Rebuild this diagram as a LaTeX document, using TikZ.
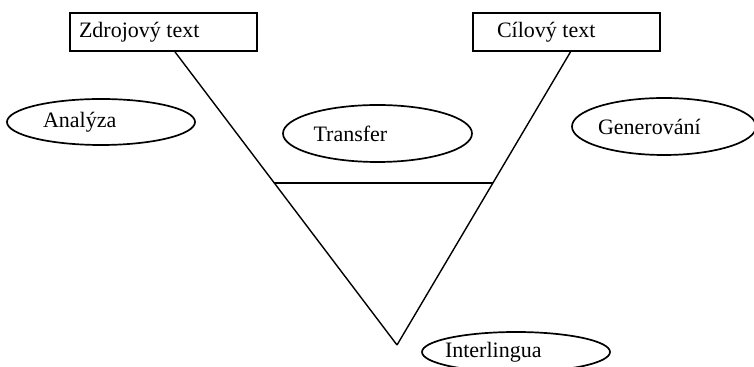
\documentclass[tikz,border=0pt]{standalone}
\usepackage{fontspec}
\setmainfont{Liberation Serif}
\usepackage{tikz}
\usetikzlibrary{shapes.geometric, calc}

\begin{document}
\begin{tikzpicture}[
    x=0.5pt, y=-0.5pt,
    font=\fontsize{11}{13}\selectfont,
    textbox/.style={
        rectangle,
        draw=black,
        line width=0.9pt,
        align=flush left,
        minimum height=19pt,
        inner ysep=2pt
    },
    phase/.style={
        ellipse,
        draw=black,
        line width=0.85pt,
        align=flush left,
        inner xsep=-5pt,
        inner ysep=0pt,
        text width=#1
    },
    leg/.style={line width=0.7pt},
    bar/.style={line width=1pt}
]
\useasboundingbox (0,0) rectangle (754,367);

\node[textbox, text width=84.5pt, inner xsep=4.5pt] (zdroj) at (163.5,32) {Zdrojový text};
\node[textbox, text width=69.5pt, inner xsep=12pt] (cil) at (566.5,32) {Cílový text};

\node[phase=58pt, minimum width=94pt, minimum height=23pt] (analyza) at (101,122) {Analýza};
\node[phase=64pt, minimum width=94.5pt, minimum height=28.5pt] (transfer) at (377.5,133.5) {Transfer};
\node[phase=66pt, minimum width=92pt, minimum height=28.5pt] (generovani) at (664,126.5) {Generování};
\node[phase=71pt, minimum width=94pt, minimum height=20pt] (interlingua) at (516,352) {Interlingua};

\coordinate (apex) at (397,345);
\coordinate (srcfoot) at ([xshift=5.75pt]zdroj.south);
\coordinate (tgtfoot) at ([xshift=2pt]cil.south);

\draw[leg] (srcfoot) -- (apex);
\draw[leg] (tgtfoot) -- (apex);

% transfer level
\coordinate (barl) at ($(srcfoot)!0.4456!(apex)$);
\coordinate (barr) at ($(tgtfoot)!0.4456!(apex)$);
\draw[bar] (barl) -- (barr);

\end{tikzpicture}
\end{document}
